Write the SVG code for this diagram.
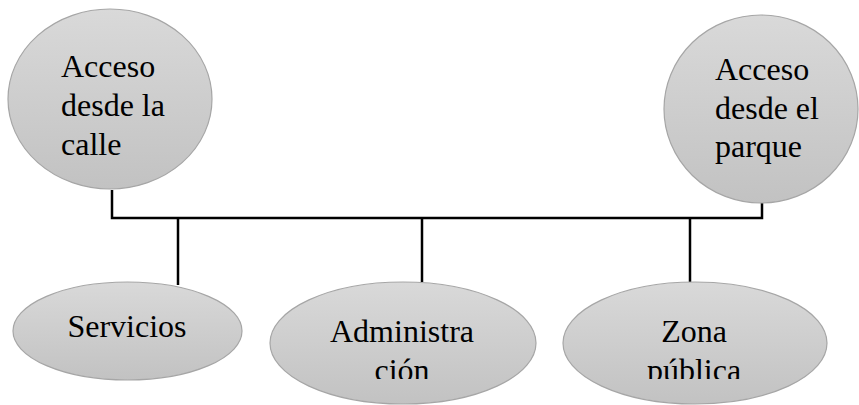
<svg xmlns="http://www.w3.org/2000/svg" width="859" height="405" viewBox="0 0 859 405">
<defs>
<linearGradient id="g" x1="0" y1="0" x2="0" y2="1">
<stop offset="0" stop-color="#d9d9d9"/>
<stop offset="1" stop-color="#c2c2c2"/>
</linearGradient>
<clipPath id="tc"><rect x="0" y="0" width="859" height="379"/></clipPath>
</defs>
<style>
.n{fill:url(#g);stroke:#a6a6a6;stroke-width:1.2}
.t{font-family:"Liberation Serif","Times New Roman",serif;font-size:32px;fill:#000}
.c{fill:none;stroke:#000;stroke-width:2.5}
</style>
<g id="connectors">
<polyline class="c" points="112,190 112,218 762,218 762,203"/>
<line class="c" x1="178" y1="218" x2="178" y2="285"/>
<line class="c" x1="422" y1="218" x2="422" y2="282"/>
<line class="c" x1="690" y1="218" x2="690" y2="282"/>
</g>
<g id="acceso-calle">
<ellipse class="n" cx="110" cy="99" rx="102" ry="90"/>
<text class="t" x="61" y="77">Acceso</text>
<text class="t" x="61" y="116">desde la</text>
<text class="t" x="61" y="155">calle</text>
</g>
<g id="acceso-parque">
<ellipse class="n" cx="761" cy="109" rx="97" ry="94"/>
<text class="t" x="715" y="80">Acceso</text>
<text class="t" x="715" y="119">desde el</text>
<text class="t" x="715" y="157">parque</text>
</g>
<g id="servicios">
<ellipse class="n" cx="127.5" cy="331" rx="114.5" ry="49"/>
<text class="t" x="127" y="337" text-anchor="middle">Servicios</text>
</g>
<g id="administracion">
<ellipse class="n" cx="403" cy="343" rx="133" ry="61"/>
<g clip-path="url(#tc)">
<text class="t" x="402" y="342" text-anchor="middle">Administra</text>
<text class="t" x="402" y="381" text-anchor="middle">ción</text>
</g>
</g>
<g id="zona-publica">
<ellipse class="n" cx="695" cy="343" rx="132" ry="61"/>
<g clip-path="url(#tc)">
<text class="t" x="694" y="342" text-anchor="middle">Zona</text>
<text class="t" x="694" y="381" text-anchor="middle">pública</text>
</g>
</g>
</svg>
